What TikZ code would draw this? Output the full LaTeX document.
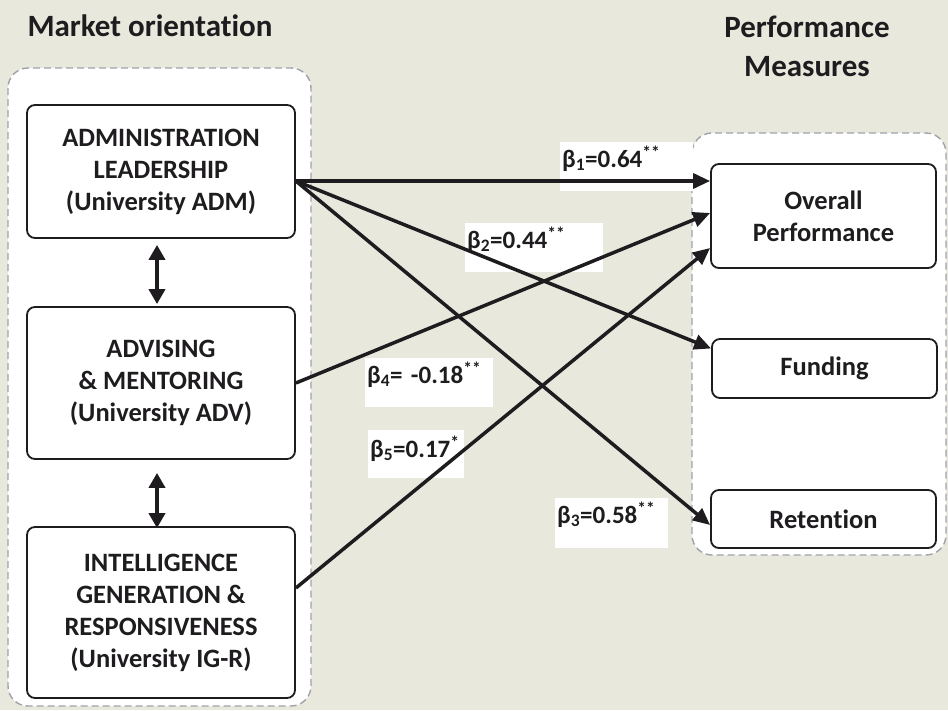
\documentclass[tikz,border=0pt]{standalone}
\usepackage{fontspec}
\setmainfont[Ligatures=NoCommon]{Carlito}
\usepackage{xcolor}
\usepackage{tikz}
\usetikzlibrary{arrows.meta,positioning}
\definecolor{bgbeige}{RGB}{233,232,221}
\definecolor{inkdark}{RGB}{30,28,30}
\definecolor{dashgray}{RGB}{160,162,170}

\begin{document}
\begin{tikzpicture}[x=1pt,y=-1pt,
  group/.style={draw=dashgray,fill=white,line width=1.4pt,dash pattern=on 7pt off 4pt,rounded corners=20pt},
  factor/.style={draw=inkdark,fill=white,line width=1.8pt,rounded corners=8pt,align=center,
    text=inkdark,font=\bfseries\fontsize{26.5}{32}\selectfont,inner sep=0pt},
  measure/.style={factor,minimum width=225pt},
  betabox/.style={fill=white,anchor=north west,align=left,inner xsep=2pt,inner ysep=0pt,
    text height=25pt,text depth=24pt,text=inkdark,font=\bfseries\fontsize{25}{28}\selectfont},
  path/.style={draw=inkdark,line width=3.5pt,-{Triangle[length=17pt,width=15pt]}},
  corr/.style={draw=inkdark,line width=4pt,{Triangle[length=15pt,width=16pt]}-{Triangle[length=15pt,width=16pt]}},
  heading/.style={text=inkdark,font=\bfseries\fontsize{31}{39}\selectfont,align=center}]
  \fill[bgbeige] (0,0) rectangle (948,710);
  \useasboundingbox (0,0) rectangle (948,710);

  % groups
  \draw[group] (8,68) rectangle (311,706);
  \draw[group] (692,133) rectangle (946,555);
  \node[heading,anchor=base] (morient) at (150,36) {Market orientation};
  \node[heading] (pmeas) at (807,46) {Performance\\Measures};

  % market orientation factors
  \node[factor,minimum width=268pt,minimum height=133pt] (adm) at (161,171.5)
    {ADMINISTRATION\\LEADERSHIP\\(University ADM)};
  \node[factor,minimum width=268pt,minimum height=152pt] (adv) at (161,383)
    {ADVISING\\\& MENTORING\\(University ADV)};
  \node[factor,minimum width=268pt,minimum height=171pt] (igr) at (161,612.5)
    {INTELLIGENCE\\GENERATION \&\\RESPONSIVENESS\\(University IG-R)};

  % performance measures
  \node[measure,minimum height=104pt] (ovr) at (823.5,216) {Overall\\Performance};
  \node[measure,minimum height=59pt] (fund) at (824.5,368.5) {Funding};
  \node[measure,minimum height=58pt] (ret) at (823.5,519) {Retention};

  % coefficients
  \node[betabox,text width=129pt] (b1) at (560,142) {β\textsubscript{1}=0.64\textsuperscript{**}};
  \node[betabox,text width=134pt] (b2) at (465,223) {β\textsubscript{2}=0.44\textsuperscript{**}};
  \node[betabox,text width=124pt] (b4) at (365,358) {β\textsubscript{4}= -0.18\textsuperscript{**}};
  \node[betabox,text width=92pt,text height=27pt,text depth=21pt] (b5) at (368,430) {β\textsubscript{5}=0.17\textsuperscript{*}};
  \node[betabox,text width=109pt,text depth=25pt] (b3) at (555,498) {β\textsubscript{3}=0.58\textsuperscript{**}};

  % paths
  \draw[path] ([yshift=-9.5pt]adm.east) -- ([yshift=35pt]ovr.west);
  \draw[path] ([yshift=-9.5pt]adm.east) -- ([yshift=20pt]fund.west);
  \draw[path] ([yshift=-9.5pt]adm.east) -- ([yshift=-6pt]ret.west);
  \draw[path] (adv.east) -- ([yshift=3pt]ovr.west);
  \draw[path] ([yshift=24.5pt]igr.east) -- ([yshift=-32pt]ovr.west);

  \draw[corr] ([xshift=-4pt,yshift=-6pt]adm.south) -- ([xshift=-4pt,yshift=2pt]adv.north);
  \draw[corr] ([xshift=-4pt,yshift=-13pt]adv.south) -- ([xshift=-4pt,yshift=-2pt]igr.north);
\end{tikzpicture}
\end{document}
